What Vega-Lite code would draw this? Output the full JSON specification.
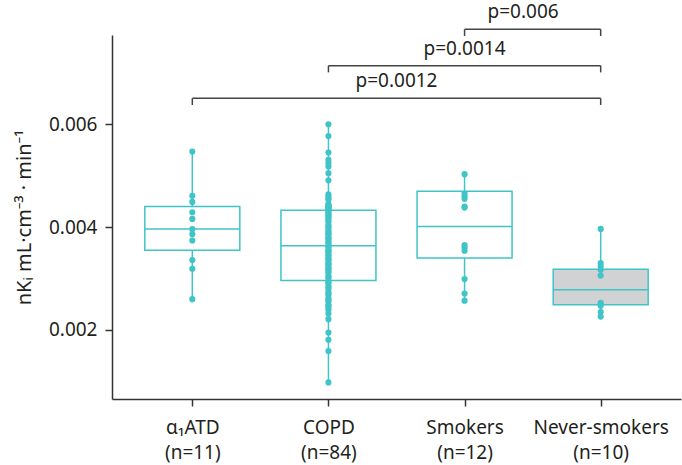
{
  "$schema": "https://vega.github.io/schema/vega-lite/v6.json",
  "width": 569,
  "height": 364,
  "autosize": {"type": "none"},
  "padding": {"left": 112, "top": 35, "right": 1, "bottom": 66},
  "background": "white",
  "config": {
    "font": "Noto Sans",
    "view": {"stroke": null},
    "scale": {"continuousPadding": 0},
    "axis": {
      "domainColor": "#333333",
      "domainWidth": 1.5,
      "tickColor": "#333333",
      "tickWidth": 1.5,
      "tickSize": 7,
      "labelColor": "#231f20",
      "titleColor": "#231f20",
      "labelFontSize": 19,
      "titleFontSize": 20,
      "titleFontWeight": "normal",
      "grid": false
    }
  },
  "datasets": {
    "boxes": [
      {"group": 1, "lower": 0.00260, "q1": 0.00355, "median": 0.003965, "q3": 0.00440, "upper": 0.00547},
      {"group": 2, "lower": 0.00098, "q1": 0.00296, "median": 0.00364, "q3": 0.00433, "upper": 0.00600},
      {"group": 3, "lower": 0.00257, "q1": 0.00340, "median": 0.00401, "q3": 0.00470, "upper": 0.00503},
      {"group": 4, "lower": 0.00226, "q1": 0.00249, "median": 0.00278, "q3": 0.00318, "upper": 0.003965}
    ],
    "points": [
      {"group": 1, "value": 0.00547}, {"group": 1, "value": 0.00461}, {"group": 1, "value": 0.00449}, {"group": 1, "value": 0.00429}, {"group": 1, "value": 0.00416}, {"group": 1, "value": 0.00396}, {"group": 1, "value": 0.00386}, {"group": 1, "value": 0.00374}, {"group": 1, "value": 0.00336}, {"group": 1, "value": 0.00319}, {"group": 1, "value": 0.00260},
      {"group": 2, "value": 0.00600}, {"group": 2, "value": 0.00577}, {"group": 2, "value": 0.00545}, {"group": 2, "value": 0.00531}, {"group": 2, "value": 0.00525}, {"group": 2, "value": 0.00518}, {"group": 2, "value": 0.00505}, {"group": 2, "value": 0.00491}, {"group": 2, "value": 0.00464}, {"group": 2, "value": 0.00460}, {"group": 2, "value": 0.00456}, {"group": 2, "value": 0.00453}, {"group": 2, "value": 0.00445}, {"group": 2, "value": 0.00443}, {"group": 2, "value": 0.00442}, {"group": 2, "value": 0.00440}, {"group": 2, "value": 0.00439}, {"group": 2, "value": 0.00438}, {"group": 2, "value": 0.00436}, {"group": 2, "value": 0.00435}, {"group": 2, "value": 0.00434},
      {"group": 2, "value": 0.00431}, {"group": 2, "value": 0.00428}, {"group": 2, "value": 0.00425}, {"group": 2, "value": 0.00423}, {"group": 2, "value": 0.00419}, {"group": 2, "value": 0.00417}, {"group": 2, "value": 0.00413}, {"group": 2, "value": 0.00410}, {"group": 2, "value": 0.00404}, {"group": 2, "value": 0.00401}, {"group": 2, "value": 0.00398}, {"group": 2, "value": 0.00393}, {"group": 2, "value": 0.00391}, {"group": 2, "value": 0.00387}, {"group": 2, "value": 0.00386}, {"group": 2, "value": 0.00381}, {"group": 2, "value": 0.00378}, {"group": 2, "value": 0.00377}, {"group": 2, "value": 0.00372}, {"group": 2, "value": 0.00370}, {"group": 2, "value": 0.00366},
      {"group": 2, "value": 0.00363}, {"group": 2, "value": 0.00360}, {"group": 2, "value": 0.00355}, {"group": 2, "value": 0.00353}, {"group": 2, "value": 0.00351}, {"group": 2, "value": 0.00346}, {"group": 2, "value": 0.00345}, {"group": 2, "value": 0.00340}, {"group": 2, "value": 0.00337}, {"group": 2, "value": 0.00336}, {"group": 2, "value": 0.00331}, {"group": 2, "value": 0.00328}, {"group": 2, "value": 0.00327}, {"group": 2, "value": 0.00322}, {"group": 2, "value": 0.00319}, {"group": 2, "value": 0.00318}, {"group": 2, "value": 0.00313}, {"group": 2, "value": 0.00311}, {"group": 2, "value": 0.00305}, {"group": 2, "value": 0.00303}, {"group": 2, "value": 0.00299},
      {"group": 2, "value": 0.00293}, {"group": 2, "value": 0.00291}, {"group": 2, "value": 0.00285}, {"group": 2, "value": 0.00283}, {"group": 2, "value": 0.00279}, {"group": 2, "value": 0.00273}, {"group": 2, "value": 0.00271}, {"group": 2, "value": 0.00267}, {"group": 2, "value": 0.00261}, {"group": 2, "value": 0.00259}, {"group": 2, "value": 0.00255}, {"group": 2, "value": 0.00249}, {"group": 2, "value": 0.00247}, {"group": 2, "value": 0.00243}, {"group": 2, "value": 0.00239}, {"group": 2, "value": 0.00232}, {"group": 2, "value": 0.00221}, {"group": 2, "value": 0.00195}, {"group": 2, "value": 0.00181}, {"group": 2, "value": 0.00159}, {"group": 2, "value": 0.00098},
      {"group": 3, "value": 0.00503}, {"group": 3, "value": 0.00465}, {"group": 3, "value": 0.00460}, {"group": 3, "value": 0.00455}, {"group": 3, "value": 0.00440}, {"group": 3, "value": 0.00438}, {"group": 3, "value": 0.00365}, {"group": 3, "value": 0.00360}, {"group": 3, "value": 0.00354}, {"group": 3, "value": 0.00299}, {"group": 3, "value": 0.00271}, {"group": 3, "value": 0.00257},
      {"group": 4, "value": 0.003965}, {"group": 4, "value": 0.00330}, {"group": 4, "value": 0.00324}, {"group": 4, "value": 0.00317}, {"group": 4, "value": 0.00306}, {"group": 4, "value": 0.00253}, {"group": 4, "value": 0.00250}, {"group": 4, "value": 0.00247}, {"group": 4, "value": 0.00235}, {"group": 4, "value": 0.00226}
    ],
    "brackets": [
      {"from": 1, "to": 4, "y": 0.006505, "ylo": 0.006375, "mid": 2.5, "label": "p=0.0012"},
      {"from": 2, "to": 4, "y": 0.007139, "ylo": 0.007009, "mid": 3.0, "label": "p=0.0014"},
      {"from": 3, "to": 4, "y": 0.007847, "ylo": 0.007717, "mid": 3.43, "label": "p=0.006"}
    ]
  },
  "layer": [
    {
      "data": {"name": "boxes"},
      "mark": {"type": "rule", "color": "#40c4c8", "strokeWidth": 1.5},
      "encoding": {
        "x": {
          "field": "group", "type": "quantitative",
          "scale": {"domain": [0.41, 4.59], "nice": false, "zero": false, "padding": 0},
          "axis": {
            "values": [1, 2, 3, 4],
            "title": null,
            "labelPadding": 12,
            "labelLineHeight": 25,
            "labelBaseline": "top",
            "labelFlush": false,
            "labelOverlap": false,
            "labelExpr": "datum.value == 1 ? ['α₁ATD', '(n=11)'] : datum.value == 2 ? ['COPD', '(n=84)'] : datum.value == 3 ? ['Smokers', '(n=12)'] : ['Never-smokers', '(n=10)']"
          }
        },
        "y": {
          "field": "lower", "type": "quantitative",
          "scale": {"domain": [0.000658, 0.007736], "nice": false, "zero": false, "padding": 0},
          "axis": {
            "values": [0.002, 0.004, 0.006],
            "format": ".3f",
            "labelPadding": 8,
            "labelFlush": false,
            "title": "nKᵢ mL·cm⁻³ · min⁻¹",
            "titlePadding": 14
          }
        },
        "y2": {"field": "upper"}
      }
    },
    {
      "data": {"name": "boxes"},
      "mark": {"type": "bar", "size": 95, "stroke": "#40c4c8", "strokeWidth": 1.5},
      "encoding": {
        "x": {"field": "group", "type": "quantitative", "scale": {"domain": [0.41, 4.59], "nice": false, "zero": false, "padding": 0}},
        "y": {"field": "q1", "type": "quantitative", "scale": {"domain": [0.000658, 0.007736], "nice": false, "zero": false, "padding": 0}},
        "y2": {"field": "q3"},
        "fill": {"condition": {"test": "datum.group === 4", "value": "#d1d2d4"}, "value": "white"}
      }
    },
    {
      "data": {"name": "boxes"},
      "mark": {"type": "tick", "orient": "horizontal", "size": 95, "thickness": 1.5, "color": "#40c4c8", "opacity": 1},
      "encoding": {
        "x": {"field": "group", "type": "quantitative", "scale": {"domain": [0.41, 4.59], "nice": false, "zero": false, "padding": 0}},
        "y": {"field": "median", "type": "quantitative", "scale": {"domain": [0.000658, 0.007736], "nice": false, "zero": false, "padding": 0}}
      }
    },
    {
      "data": {"name": "points"},
      "mark": {"type": "circle", "size": 38, "color": "#40c4c8", "opacity": 1},
      "encoding": {
        "x": {"field": "group", "type": "quantitative", "scale": {"domain": [0.41, 4.59], "nice": false, "zero": false, "padding": 0}},
        "y": {"field": "value", "type": "quantitative", "scale": {"domain": [0.000658, 0.007736], "nice": false, "zero": false, "padding": 0}}
      }
    },
    {
      "data": {"name": "brackets"},
      "mark": {"type": "rule", "color": "#444444", "strokeWidth": 1.5},
      "encoding": {
        "x": {"field": "from", "type": "quantitative", "scale": {"domain": [0.41, 4.59], "nice": false, "zero": false, "padding": 0}},
        "x2": {"field": "to"},
        "y": {"field": "y", "type": "quantitative", "scale": {"domain": [0.000658, 0.007736], "nice": false, "zero": false, "padding": 0}}
      }
    },
    {
      "data": {"name": "brackets"},
      "mark": {"type": "rule", "color": "#444444", "strokeWidth": 1.5},
      "encoding": {
        "x": {"field": "from", "type": "quantitative", "scale": {"domain": [0.41, 4.59], "nice": false, "zero": false, "padding": 0}},
        "y": {"field": "y", "type": "quantitative", "scale": {"domain": [0.000658, 0.007736], "nice": false, "zero": false, "padding": 0}},
        "y2": {"field": "ylo"}
      }
    },
    {
      "data": {"name": "brackets"},
      "mark": {"type": "rule", "color": "#444444", "strokeWidth": 1.5},
      "encoding": {
        "x": {"field": "to", "type": "quantitative", "scale": {"domain": [0.41, 4.59], "nice": false, "zero": false, "padding": 0}},
        "y": {"field": "y", "type": "quantitative", "scale": {"domain": [0.000658, 0.007736], "nice": false, "zero": false, "padding": 0}},
        "y2": {"field": "ylo"}
      }
    },
    {
      "data": {"name": "brackets"},
      "mark": {"type": "text", "fontSize": 19, "color": "#231f20", "align": "center", "baseline": "alphabetic", "dy": -11},
      "encoding": {
        "x": {"field": "mid", "type": "quantitative", "scale": {"domain": [0.41, 4.59], "nice": false, "zero": false, "padding": 0}},
        "y": {"field": "y", "type": "quantitative", "scale": {"domain": [0.000658, 0.007736], "nice": false, "zero": false, "padding": 0}},
        "text": {"field": "label"}
      }
    }
  ]
}
